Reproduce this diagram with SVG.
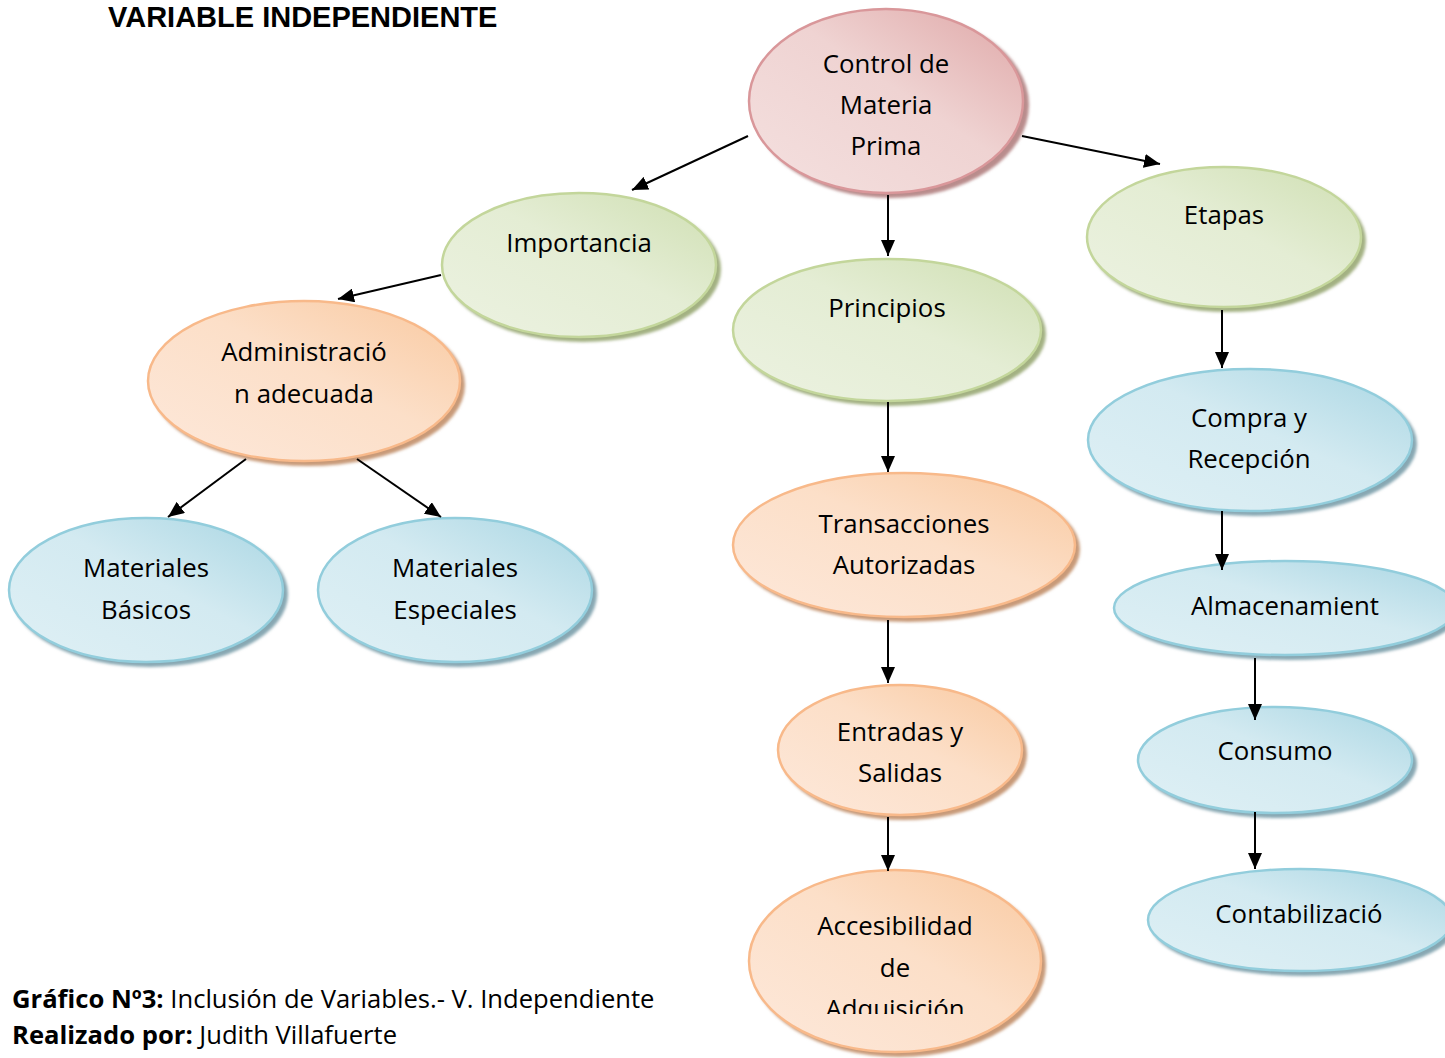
<svg xmlns="http://www.w3.org/2000/svg" width="1445" height="1058" viewBox="0 0 1445 1058">
  <defs>
    <linearGradient id="gPink" x1="0" y1="1" x2="1" y2="0">
      <stop offset="0" stop-color="#f4e0df"/>
      <stop offset="0.55" stop-color="#efd3d2"/>
      <stop offset="1" stop-color="#dfa7a7"/>
    </linearGradient>
    <linearGradient id="gGreen" x1="0" y1="1" x2="1" y2="0">
      <stop offset="0" stop-color="#ecf2e1"/>
      <stop offset="0.55" stop-color="#e4edd4"/>
      <stop offset="1" stop-color="#cfdfb2"/>
    </linearGradient>
    <linearGradient id="gOrange" x1="0" y1="1" x2="1" y2="0">
      <stop offset="0" stop-color="#fde8da"/>
      <stop offset="0.55" stop-color="#fcdfc8"/>
      <stop offset="1" stop-color="#f9c9a0"/>
    </linearGradient>
    <linearGradient id="gBlue" x1="0" y1="1" x2="1" y2="0">
      <stop offset="0" stop-color="#dff0f5"/>
      <stop offset="0.55" stop-color="#d3eaf1"/>
      <stop offset="1" stop-color="#a9d6e3"/>
    </linearGradient>
    <filter id="soft" x="-10%" y="-10%" width="120%" height="120%">
      <feGaussianBlur stdDeviation="1.5"/>
    </filter>
    <marker id="arrow" viewBox="0 0 16 14" refX="16" refY="7" markerWidth="16" markerHeight="14" orient="auto" markerUnits="userSpaceOnUse">
      <path d="M0,0 L16,7 L0,14 z" fill="#000"/>
    </marker>
    <clipPath id="clipSalidas"><rect x="700" y="600" width="400" height="184"/></clipPath>
    <clipPath id="clipAdq"><rect x="700" y="850" width="400" height="164"/></clipPath>
  </defs>
  <style>
    .lbl { font-family: "Open Sans", "Noto Sans", sans-serif; font-size: 25.8px; fill: #000; text-anchor: middle; }
    .pink { fill: url(#gPink); stroke: #d9979a; stroke-width: 2.5; }
    .green { fill: url(#gGreen); stroke: #c3d69b; stroke-width: 2.5; }
    .orange { fill: url(#gOrange); stroke: #f8b98a; stroke-width: 2.5; }
    .blue { fill: url(#gBlue); stroke: #92cddc; stroke-width: 2.5; }
    .shPink { fill: #b98c8c; }
    .shGreen { fill: #a3b182; }
    .shOrange { fill: #c89a78; }
    .shBlue { fill: #87a7b2; }
    .conn line { stroke: #000; stroke-width: 2; marker-end: url(#arrow); }
    .title { font-family: "Liberation Sans", Arial, sans-serif; font-weight: bold; font-size: 29px; fill: #000; }
    .cap { font-family: "Open Sans", "Noto Sans", sans-serif; font-size: 25.6px; fill: #000; }
  </style>

  <rect width="1445" height="1058" fill="#ffffff"/>

  <text class="title" x="108" y="27">VARIABLE INDEPENDIENTE</text>

  <!-- root -->
  <g id="node-control">
    <ellipse class="shPink" cx="891" cy="105" rx="138" ry="93" filter="url(#soft)"/>
    <ellipse class="pink" cx="886" cy="101" rx="137" ry="92"/>
    <text class="lbl" x="886" y="73">Control de</text>
    <text class="lbl" x="886" y="114">Materia</text>
    <text class="lbl" x="886" y="155">Prima</text>
  </g>

  <!-- second level -->
  <g id="node-importancia">
    <ellipse class="shGreen" cx="583" cy="269" rx="138" ry="73" filter="url(#soft)"/>
    <ellipse class="green" cx="579" cy="265" rx="137" ry="72"/>
    <text class="lbl" x="579" y="252">Importancia</text>
  </g>
  <g id="node-principios">
    <ellipse class="shGreen" cx="891" cy="334" rx="155" ry="72" filter="url(#soft)"/>
    <ellipse class="green" cx="887" cy="330" rx="154" ry="71"/>
    <text class="lbl" x="887" y="317">Principios</text>
  </g>
  <g id="node-etapas">
    <ellipse class="shGreen" cx="1228" cy="241" rx="138" ry="71" filter="url(#soft)"/>
    <ellipse class="green" cx="1224" cy="237" rx="137" ry="70"/>
    <text class="lbl" x="1224" y="224">Etapas</text>
  </g>

  <!-- Importancia branch -->
  <g id="node-administracion">
    <ellipse class="shOrange" cx="308" cy="385" rx="157" ry="81" filter="url(#soft)"/>
    <ellipse class="orange" cx="304" cy="381" rx="156" ry="80"/>
    <text class="lbl" x="304" y="361">Administració</text>
    <text class="lbl" x="304" y="403">n adecuada</text>
  </g>
  <g id="node-basicos">
    <ellipse class="shBlue" cx="150" cy="594" rx="138" ry="73" filter="url(#soft)"/>
    <ellipse class="blue" cx="146" cy="590" rx="137" ry="72"/>
    <text class="lbl" x="146" y="577">Materiales</text>
    <text class="lbl" x="146" y="619">Básicos</text>
  </g>
  <g id="node-especiales">
    <ellipse class="shBlue" cx="459" cy="594" rx="138" ry="73" filter="url(#soft)"/>
    <ellipse class="blue" cx="455" cy="590" rx="137" ry="72"/>
    <text class="lbl" x="455" y="577">Materiales</text>
    <text class="lbl" x="455" y="619">Especiales</text>
  </g>

  <!-- Principios branch -->
  <g id="node-transacciones">
    <ellipse class="shOrange" cx="908" cy="549" rx="172" ry="73" filter="url(#soft)"/>
    <ellipse class="orange" cx="904" cy="545" rx="171" ry="72"/>
    <text class="lbl" x="904" y="533">Transacciones</text>
    <text class="lbl" x="904" y="574">Autorizadas</text>
  </g>
  <g id="node-entradas">
    <ellipse class="shOrange" cx="904" cy="754" rx="123" ry="66" filter="url(#soft)"/>
    <ellipse class="orange" cx="900" cy="750" rx="122" ry="65"/>
    <g clip-path="url(#clipSalidas)">
      <text class="lbl" x="900" y="741">Entradas y</text>
      <text class="lbl" x="900" y="782">Salidas</text>
    </g>
  </g>
  <g id="node-accesibilidad">
    <ellipse class="shOrange" cx="899" cy="965" rx="147" ry="92" filter="url(#soft)"/>
    <ellipse class="orange" cx="895" cy="961" rx="146" ry="91"/>
    <g clip-path="url(#clipAdq)">
      <text class="lbl" x="895" y="935">Accesibilidad</text>
      <text class="lbl" x="895" y="977">de</text>
      <text class="lbl" x="895" y="1018">Adquisición</text>
    </g>
  </g>

  <!-- Etapas branch -->
  <g id="node-compra">
    <ellipse class="shBlue" cx="1254" cy="444" rx="163" ry="72" filter="url(#soft)"/>
    <ellipse class="blue" cx="1250" cy="440" rx="162" ry="71"/>
    <text class="lbl" x="1249" y="427">Compra y</text>
    <text class="lbl" x="1249" y="468">Recepción</text>
  </g>
  <g id="node-almacenamiento">
    <ellipse class="shBlue" cx="1289" cy="612" rx="172" ry="48" filter="url(#soft)"/>
    <ellipse class="blue" cx="1285" cy="608" rx="171" ry="47"/>
    <text class="lbl" x="1285" y="615">Almacenamient</text>
  </g>
  <g id="node-consumo">
    <ellipse class="shBlue" cx="1279" cy="764" rx="138" ry="54" filter="url(#soft)"/>
    <ellipse class="blue" cx="1275" cy="760" rx="137" ry="53"/>
    <text class="lbl" x="1275" y="760">Consumo</text>
  </g>
  <g id="node-contabilizacion">
    <ellipse class="shBlue" cx="1304" cy="924" rx="153" ry="52" filter="url(#soft)"/>
    <ellipse class="blue" cx="1300" cy="920" rx="152" ry="51"/>
    <text class="lbl" x="1299" y="923">Contabilizació</text>
  </g>

  <!-- connectors, drawn over the shapes -->
  <g id="connectors" class="conn">
    <line x1="748" y1="136" x2="632" y2="190"/>
    <line x1="888" y1="195" x2="888" y2="256"/>
    <line x1="1022" y1="136" x2="1160" y2="164"/>
    <line x1="441" y1="275" x2="338" y2="299"/>
    <line x1="246" y1="459" x2="168" y2="517"/>
    <line x1="357" y1="459" x2="441" y2="517"/>
    <line x1="888" y1="402" x2="888" y2="472"/>
    <line x1="888" y1="620" x2="888" y2="683"/>
    <line x1="888" y1="817" x2="888" y2="871"/>
    <line x1="1222" y1="310" x2="1222" y2="368"/>
    <line x1="1222" y1="511" x2="1222" y2="570"/>
    <line x1="1255" y1="658" x2="1255" y2="720"/>
    <line x1="1255" y1="812" x2="1255" y2="869"/>
  </g>

  <!-- caption -->
  <text class="cap" x="12" y="1008"><tspan font-weight="bold">Gráfico Nº3:</tspan> Inclusión de Variables.- V. Independiente</text>
  <text class="cap" x="12" y="1044"><tspan font-weight="bold">Realizado por:</tspan> Judith Villafuerte</text>
</svg>
